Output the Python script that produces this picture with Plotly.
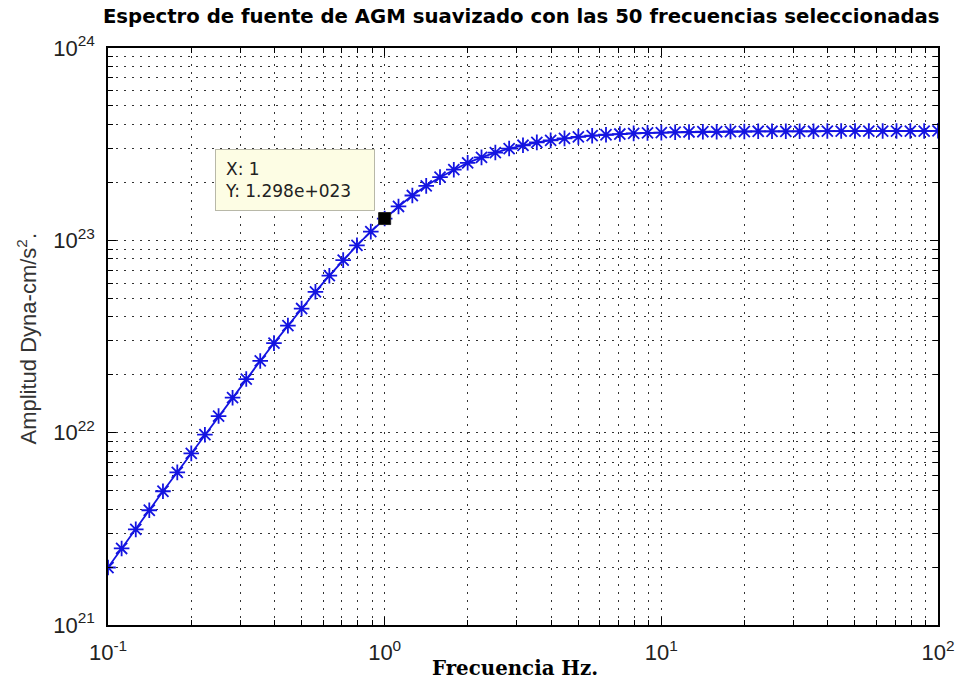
import plotly.graph_objects as go

# ---- data ----
FREQ_HZ = [0.1, 0.112, 0.126, 0.141, 0.158, 0.178, 0.2, 0.224, 0.251, 0.282,
           0.316, 0.355, 0.398, 0.447, 0.501, 0.562, 0.631, 0.708, 0.794, 0.891,
           1.0, 1.122, 1.259, 1.413, 1.585, 1.778, 1.995, 2.239, 2.512, 2.818,
           3.162, 3.548, 3.981, 4.467, 5.012, 5.623, 6.310, 7.079, 7.943, 8.913,
           10.0, 11.22, 12.59, 14.13, 15.85, 17.78, 19.95, 22.39, 25.12, 28.18,
           31.62, 35.48, 39.81, 44.67, 50.12, 56.23, 63.10, 70.79, 79.43, 89.13,
           100.0]

AMPLITUDE = [1.99e21, 2.50e21, 3.14e21, 3.95e21, 4.96e21, 6.22e21, 7.80e21, 9.76e21, 1.22e22, 1.52e22,
             1.90e22, 2.36e22, 2.92e22, 3.60e22, 4.42e22, 5.40e22, 6.55e22, 7.89e22, 9.41e22, 1.11e23,
             1.298e23, 1.50e23, 1.71e23, 1.92e23, 2.13e23, 2.33e23, 2.53e23, 2.70e23, 2.86e23, 3.00e23,
             3.12e23, 3.23e23, 3.31e23, 3.39e23, 3.45e23, 3.50e23, 3.54e23, 3.57e23, 3.60e23, 3.62e23,
             3.63e23, 3.65e23, 3.66e23, 3.67e23, 3.67e23, 3.68e23, 3.68e23, 3.69e23, 3.69e23, 3.69e23,
             3.69e23, 3.69e23, 3.70e23, 3.70e23, 3.70e23, 3.70e23, 3.70e23, 3.70e23, 3.70e23, 3.70e23,
             3.71e23]

DATATIP_X = 1
DATATIP_Y = 1.298e23

X_TICK_VALS = [0.1, 1, 10, 100]
X_TICK_TEXT = ["10<sup>-1</sup>", "10<sup>0</sup>", "10<sup>1</sup>", "10<sup>2</sup>"]
Y_TICK_VALS = [1e21, 1e22, 1e23, 1e24]
Y_TICK_TEXT = ["10<sup>21</sup>", "10<sup>22</sup>", "10<sup>23</sup>", "10<sup>24</sup>"]

TITLE = "Espectro de fuente de AGM suavizado con las 50 frecuencias seleccionadas"
X_TITLE = "Frecuencia Hz."
Y_TITLE = "Amplitud Dyna-cm/s<sup>2</sup>."

# ---- figure ----
BLUE = "rgb(20,20,225)"
GRID = "#333333"

fig = go.Figure()
fig.add_trace(go.Scatter(
    x=FREQ_HZ, y=AMPLITUDE, mode="lines+markers",
    line=dict(color=BLUE, width=1.8),
    marker=dict(symbol="asterisk-open", size=13, color=BLUE, line=dict(color=BLUE, width=1.8)),
    showlegend=False, hoverinfo="skip",
))
fig.add_trace(go.Scatter(
    x=[DATATIP_X], y=[DATATIP_Y], mode="markers",
    marker=dict(symbol="square", size=12, color="black", line=dict(color="#222", width=1)),
    showlegend=False, hoverinfo="skip",
))

tick_font = dict(family="Liberation Sans, Arial", size=22, color="#222")
axis_common = dict(
    type="log",
    showline=True, linecolor="black", linewidth=1.5, mirror="allticks",
    ticks="inside", ticklen=8, tickwidth=1.2, tickcolor="black",
    showgrid=True, gridcolor=GRID, gridwidth=1.4, griddash="2px,6px",
    zeroline=False, tickfont=tick_font, tickmode="array",
    minor=dict(dtick="D1", ticks="inside", ticklen=5, tickwidth=1, tickcolor="black",
               showgrid=True, gridcolor=GRID, gridwidth=1.4, griddash="2px,6px"),
)

fig.update_xaxes(**axis_common, range=[-1, 2], tickvals=X_TICK_VALS, ticktext=X_TICK_TEXT,
                 ticklabelstandoff=7)
fig.update_yaxes(**axis_common, range=[21, 24], tickvals=Y_TICK_VALS, ticktext=Y_TICK_TEXT,
                 ticklabelstandoff=7)

fig.update_layout(
    width=967, height=682,
    margin=dict(l=108, r=19, t=48, b=57, pad=0),
    paper_bgcolor="white", plot_bgcolor="white",
    title=dict(text="<b>" + TITLE + "</b>", x=0.539, xref="container", xanchor="center",
               y=0.976, yref="container", yanchor="middle",
               font=dict(family="DejaVu Sans", size=19.7, color="black")),
)

# axis titles
fig.add_annotation(text="<b>" + X_TITLE + "</b>", xref="paper", yref="paper", x=0.5, y=0,
                   xanchor="center", yanchor="middle", xshift=-8, yshift=-43, showarrow=False,
                   font=dict(family="DejaVu Serif", size=19.8, color="black"))
fig.add_annotation(text=Y_TITLE, xref="paper", yref="paper", x=0, y=0.5, textangle=-90,
                   xanchor="center", yanchor="middle", xshift=-82, yshift=-2, showarrow=False,
                   font=dict(family="Liberation Sans, Arial", size=22, color="#333"))

# data tip
fig.add_annotation(text="X: 1<br>Y: 1.298e+023", x=0, y=23.1133, xref="x", yref="y",
                   xanchor="right", yanchor="bottom", xshift=-10, yshift=8, showarrow=False,
                   align="left", bgcolor="#fdfde4", bordercolor="#b8b8a8", borderwidth=1,
                   borderpad=9, width=140,
                   font=dict(family="DejaVu Sans", size=17, color="#222"))

fig.write_html("out.html")
